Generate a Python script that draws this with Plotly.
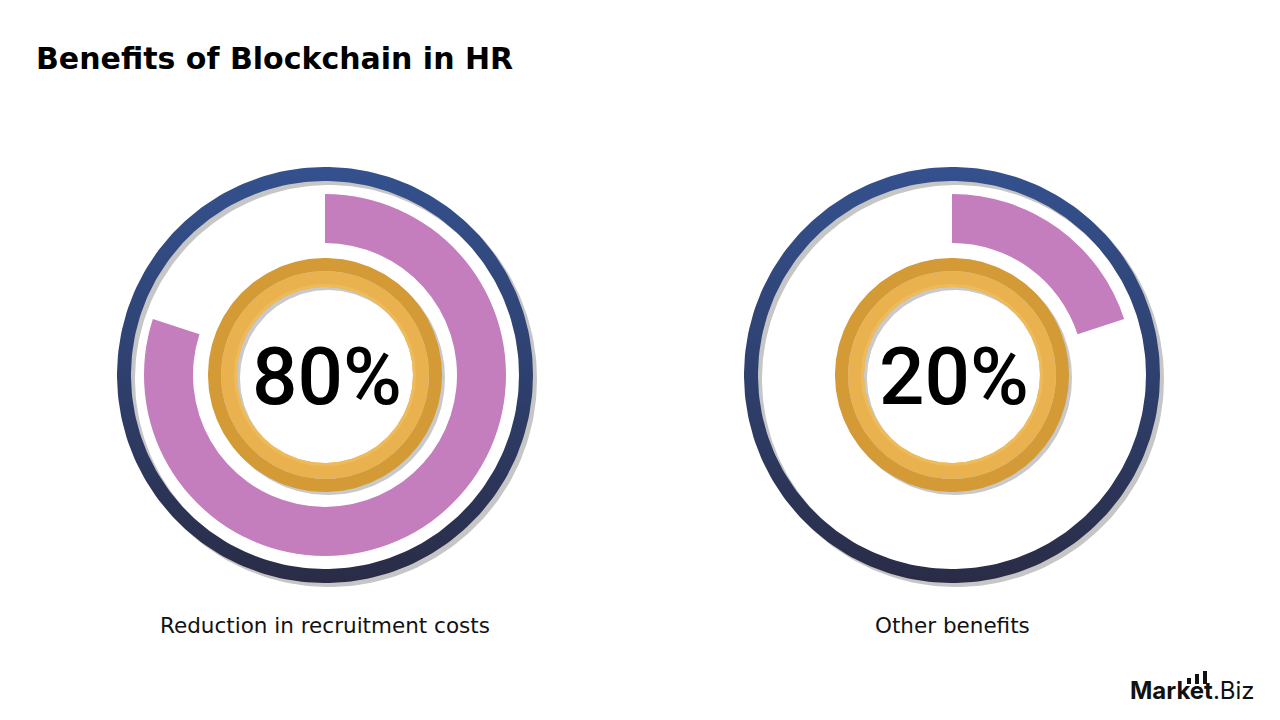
import numpy as np
import plotly.graph_objects as go

# ---- data ----
categories = ["Reduction in recruitment costs", "Other benefits"]
values = [80, 20]
value_labels = ["80%", "20%"]
title_text = "Benefits of Blockchain in HR"

# ---- style / layout constants ----
W, H = 1280, 720
centers = [(325, 375), (952, 375)]
PINK = "#C47DBD"
R_NAVY_OUT, R_NAVY_IN = 208, 194
R_PINK_OUT, R_PINK_IN = 181, 132
R_GOLD_OUT, R_GOLD_MID, R_GOLD_IN = 117, 104, 88

fig = go.Figure()


def annulus(cx, cy, r_in, r_out, n=240):
    t = np.linspace(0, 2 * np.pi, n)
    xo = cx + r_out * np.cos(t)
    yo = cy + r_out * np.sin(t)
    xi = cx + r_in * np.cos(t[::-1])
    yi = cy + r_in * np.sin(t[::-1])
    return np.concatenate([xo, xi, [xo[0]]]), np.concatenate([yo, yi, [yo[0]]])


def add_ring(cx, cy, r_in, r_out, color=None, gradient=None):
    x, y = annulus(cx, cy, r_in, r_out)
    kw = dict(x=x, y=y, mode="lines", fill="toself", line=dict(width=0),
              hoverinfo="skip", showlegend=False)
    if gradient is not None:
        kw["fillgradient"] = gradient
        kw["fillcolor"] = None
    else:
        kw["fillcolor"] = color
    fig.add_trace(go.Scatter(**kw))


navy_grad = dict(type="vertical",
                 colorscale=[[0, "#2A2C46"], [0.55, "#2F4272"], [1, "#34518E"]])

for (cx, cy) in centers:
    # shadow of navy ring
    add_ring(cx + 4, cy + 4, R_NAVY_IN, R_NAVY_OUT, color="#C6C6C6")
    # navy ring
    add_ring(cx, cy, R_NAVY_IN, R_NAVY_OUT, gradient=navy_grad)
    # gold ring shadow
    add_ring(cx + 3, cy + 3, R_GOLD_IN, R_GOLD_OUT, color="#C9C9C9")
    # gold rings
    add_ring(cx, cy, R_GOLD_MID, R_GOLD_OUT, color="#D39A35")
    add_ring(cx, cy, R_GOLD_IN, R_GOLD_MID, color="#E9B24F")
    add_ring(cx, cy, R_GOLD_IN, R_GOLD_IN + 3, color="#EEBB5C")

# pink progress arcs (pie traces)
for (cx, cy), v in zip(centers, values):
    fig.add_trace(go.Pie(
        values=[v, 100 - v],
        marker=dict(colors=[PINK, "rgba(0,0,0,0)"], line=dict(width=0)),
        hole=R_PINK_IN / R_PINK_OUT,
        sort=False, direction="clockwise", rotation=0,
        textinfo="none", hoverinfo="skip", showlegend=False,
        domain=dict(x=[(cx - R_PINK_OUT) / W, (cx + R_PINK_OUT) / W],
                    y=[1 - (cy + R_PINK_OUT) / H, 1 - (cy - R_PINK_OUT) / H]),
    ))

annotations = []
for (cx, cy), lab, cat in zip(centers, value_labels, categories):
    annotations.append(dict(x=cx + 2, y=cy + 2, xref="x", yref="y", text=lab,
                            showarrow=False, xanchor="center", yanchor="middle",
                            font=dict(family="Roboto", size=80, color="#000000", weight=500)))
    annotations.append(dict(x=cx, y=625, xref="x", yref="y", text=cat,
                            showarrow=False, xanchor="center", yanchor="middle",
                            font=dict(family="DejaVu Sans", size=21.5, color="#111111")))

annotations.append(dict(x=34, y=58, xref="x", yref="y", text=title_text, showarrow=False,
                        xanchor="left", yanchor="middle",
                        font=dict(family="DejaVu Sans", size=30, color="#000000", weight=700)))
annotations.append(dict(x=1257, y=690, xref="x", yref="y",
                        text="<b>Market</b>.Biz", showarrow=False,
                        xanchor="right", yanchor="middle",
                        font=dict(family="Inter, Open Sans", size=24, color="#111111")))

shapes = []
for x0, top in [(1187, 678), (1195, 674), (1203, 671)]:
    shapes.append(dict(type="rect", xref="x", yref="y", x0=x0, x1=x0 + 4,
                       y0=top, y1=684, fillcolor="#111111", line=dict(width=0)))

fig.update_layout(
    width=W, height=H,
    margin=dict(l=0, r=0, t=0, b=0),
    paper_bgcolor="white", plot_bgcolor="white",
    xaxis=dict(range=[0, W], visible=False, fixedrange=True),
    yaxis=dict(range=[H, 0], visible=False, fixedrange=True),
    annotations=annotations, shapes=shapes,
)

fig.write_html("out.html")
